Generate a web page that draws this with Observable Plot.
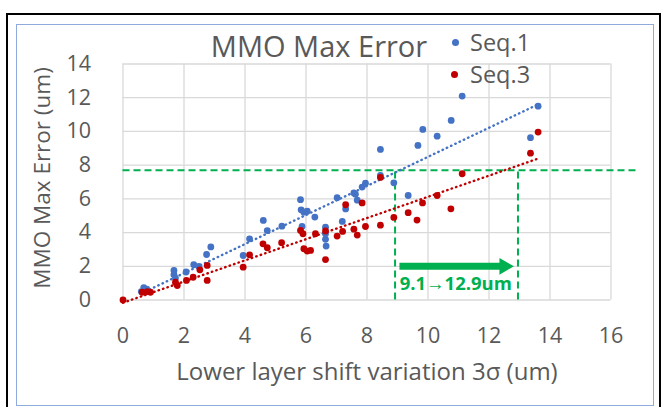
<!DOCTYPE html>
<html><head><meta charset="utf-8">
<script src="https://cdn.jsdelivr.net/npm/d3@7"></script>
<script src="https://cdn.jsdelivr.net/npm/@observablehq/plot@0.6"></script>
<style>
html,body{margin:0;padding:0;background:#fff;width:666px;height:407px;overflow:hidden;font-family:"Open Sans",sans-serif;}
#outer{position:absolute;left:6px;top:13px;width:655px;height:420px;border:2px solid #000;box-sizing:border-box;}
#inner{position:absolute;left:16px;top:24px;width:638px;height:382px;border:1.5px solid #8faadc;box-sizing:border-box;}
#chart{position:absolute;left:0;top:0;}
#title{position:absolute;left:319px;top:31px;transform:translateX(-50%);white-space:nowrap;font-size:29px;line-height:29px;color:#595959;}
.leg{position:absolute;left:470px;font-size:23.5px;line-height:23.5px;color:#595959;white-space:nowrap;}
.dot{position:absolute;width:7px;height:7px;border-radius:50%;}
</style></head>
<body>
<div id="outer"></div>
<div id="inner"></div>
<div id="chart"></div>
<div id="title">MMO Max Error</div>
<div class="dot" style="left:452px;top:39px;background:#4472C4"></div>
<div class="leg" style="top:31px">Seq.1</div>
<div class="dot" style="left:451px;top:71px;background:#C00000"></div>
<div class="leg" style="top:63px">Seq.3</div>
<script>
// Seq.1 (blue)
const seq1X = [0.6,0.68,0.78,1.67,1.67,1.72,2.07,2.32,2.49,2.74,2.88,3.94,4.15,4.6,4.73,5.21,5.82,5.84,5.93,6.04,5.87,6.29,6.64,6.64,6.64,6.66,7.02,7.19,7.3,7.57,7.62,7.68,7.84,7.95,8.44,8.44,8.88,9.35,9.67,9.83,10.3,10.76,11.12,13.36,13.61];
const seq1Y = [0.5,0.74,0.65,1.75,1.5,1.3,1.66,2.09,1.99,2.7,3.15,2.64,3.63,4.72,4.12,4.38,5.95,5.35,5.21,5.27,4.36,4.92,4.32,3.93,3.6,3.2,6.07,4.66,5.4,6.35,6.28,5.92,6.7,6.93,8.93,7.39,6.95,6.2,9.17,10.12,9.72,10.65,12.1,9.63,11.5];
// Seq.3 (red)
const seq3X = [0,0.63,0.8,0.9,1.72,1.78,2.08,2.3,2.52,2.76,2.76,3.94,4.15,4.59,4.73,5.2,5.82,5.9,5.93,6.04,6.15,6.31,6.64,6.64,7.02,7.2,7.3,7.57,7.68,7.84,7.95,8.44,8.44,8.88,9.35,9.64,9.82,10.3,10.75,11.12,13.36,13.61];
const seq3Y = [0,0.46,0.5,0.46,1.06,0.86,1.16,1.35,1.79,2.05,1.16,1.95,2.68,3.33,3.1,3.4,4.13,3.93,3.04,2.9,2.94,3.93,4.1,2.4,3.79,4.07,5.65,4.2,3.85,5.76,4.36,4.44,7.27,4.9,5.18,4.74,5.76,6.2,5.41,7.49,8.71,9.96];

const xTicks = [0,2,4,6,8,10,12,14,16];
const yTicks = [0,2,4,6,8,10,12,14];
const xLabel = "Lower layer shift variation 3σ (um)";
const yLabel = "MMO Max Error (um)";

// annotation values
const limitY = [7.7];
const limitSpan = [0, 16.9];
const guideX = [8.92, 12.95];
const shiftArrow = [{from: 9.08, to: 12.5, y: 2.0}];
const shiftText = ["9.1→12.9um"];

const s1 = seq1X.map((x, i) => ({x, y: seq1Y[i]}));
const s3 = seq3X.map((x, i) => ({x, y: seq3Y[i]}));

const BLUE = "#4472C4", RED = "#C00000", GREEN = "#00B050", GRID = "#d9d9d9", TXT = "#595959";

const chart = Plot.plot({
  width: 666, height: 407,
  marginLeft: 122.5, marginRight: 55.5, marginTop: 63.5, marginBottom: 107.5,
  style: {fontFamily: "Open Sans, sans-serif", color: TXT, background: "transparent", overflow: "visible"},
  x: {domain: [0, 16]},
  y: {domain: [0, 14]},
  marks: [
    Plot.gridX(xTicks, {stroke: GRID, strokeOpacity: 1, strokeWidth: 1.3}),
    Plot.gridY(yTicks, {stroke: GRID, strokeOpacity: 1, strokeWidth: 1.3}),
    Plot.axisX(xTicks, {tickSize: 0, tickPadding: 28, fontSize: 21.5, label: null, fill: TXT}),
    Plot.axisY(yTicks, {tickSize: 0, tickPadding: 32, fontSize: 21.5, label: null, fill: TXT}),
    Plot.text([xLabel], {frameAnchor: "bottom", dy: 72.5, text: d => d, fontSize: 24, fill: TXT, lineAnchor: "middle", textAnchor: "middle"}),
    Plot.text([yLabel], {frameAnchor: "left", dx: -80.5, dy: -4, rotate: -90, text: d => d, fontSize: 22.5, fill: TXT, lineAnchor: "middle", textAnchor: "middle"}),
    Plot.ruleY(limitY, {x1: limitSpan[0], x2: limitSpan[1], stroke: GREEN, strokeWidth: 2, strokeDasharray: "7,4"}),
    Plot.ruleX(guideX, {y1: 0, y2: limitY[0], stroke: GREEN, strokeWidth: 2, strokeDasharray: "7,4"}),
    Plot.linearRegressionY(s1, {x: "x", y: "y", stroke: BLUE, ci: 0, strokeWidth: 2.4, strokeDasharray: "0.5,4.2", strokeLinecap: "round"}),
    Plot.linearRegressionY(s3, {x: "x", y: "y", stroke: RED, ci: 0, strokeWidth: 2.4, strokeDasharray: "0.5,4.2", strokeLinecap: "round"}),
    Plot.dot(s1, {x: "x", y: "y", r: 3.4, fill: BLUE}),
    Plot.dot(s3, {x: "x", y: "y", r: 3.4, fill: RED}),
    Plot.ruleY(shiftArrow, {x1: "from", x2: "to", y: "y", stroke: GREEN, strokeWidth: 7}),
    Plot.dot(shiftArrow, {x: "to", y: "y", symbol: "triangle", rotate: 90, r: 6.2, fill: GREEN}),
    Plot.text(shiftText, {x: guideX[0] + 0.15, y: 0.95, text: d => d, textAnchor: "start", fill: GREEN, fontWeight: "bold", fontSize: 18.5})
  ]
});
document.getElementById("chart").appendChild(chart);
</script>
</body></html>
